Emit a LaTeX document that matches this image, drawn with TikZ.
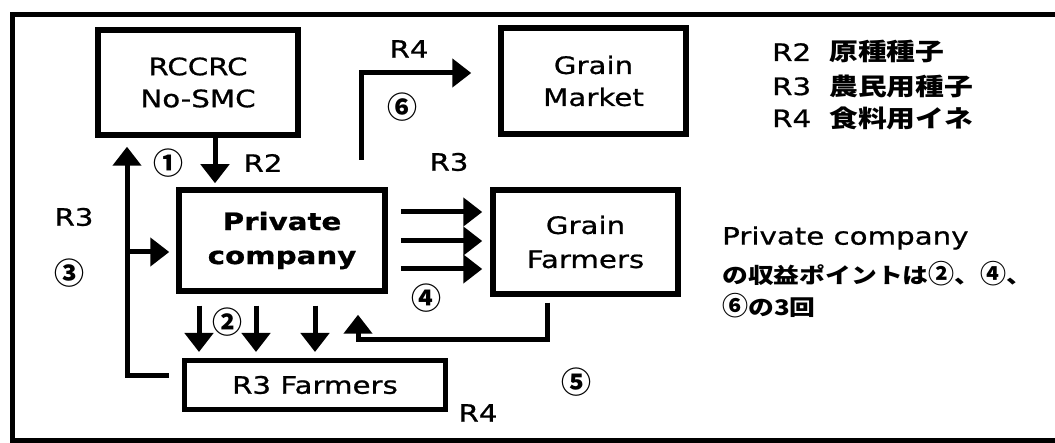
\documentclass[tikz,border=0pt]{standalone}
\usepackage{fontspec}
\setmainfont[FakeStretch=1.22,FakeBold=0.8]{DejaVu Sans}
\newfontfamily\cjk[FakeStretch=1.2]{Noto Sans CJK JP}
\newfontfamily\cnum{Noto Sans CJK JP}
\newcommand{\bigc}[1]{{\cnum\bfseries\fontsize{26}{26}\selectfont #1}}
\usetikzlibrary{arrows.meta,calc}
\begin{document}
\begin{tikzpicture}[x=1pt,y=-1pt,
  box/.style={draw,line width=5.5pt,align=center,inner sep=0pt,font=\fontsize{24}{32}\selectfont},
  lab/.style={inner sep=0pt,font=\fontsize{24}{28}\selectfont},
  cn/.style={inner sep=0pt,font=\cnum\bfseries\fontsize{30}{30}\selectfont},
  arr/.style={line width=5pt,-{Triangle[length=19pt,width=28pt]}}]
\fill[white] (0,0) rectangle (1055,443);
\useasboundingbox (0,0) rectangle (1055,443);
% frame
\draw[line width=5pt] (1055,15) -| (12,440) -- (1055,440);
% boxes
\node[box,minimum width=200pt,minimum height=105pt] (rcc) at (198,82.5) {RCCRC\\No-SMC};
\node[box,minimum width=185pt,minimum height=106pt] (gm) at (593.5,81) {Grain\\Market};
\node[box,minimum width=206pt,minimum height=101pt,font=\bfseries\fontsize{24}{34}\selectfont] (pc) at (282,240.5) {Private\\company};
\node[box,minimum width=185pt,minimum height=104pt,font=\fontsize{24}{34}\selectfont] (gf) at (585.5,242) {Grain\\Farmers};
\node[box,line width=5pt,minimum width=261pt,minimum height=49pt] (r3f) at (315,385) {R3 Farmers};
% arrow 1
\coordinate (x1) at (215,0);
\draw[arr] (x1 |- rcc.south) -- ($(x1 |- pc.north)+(0,-4)$);
% left loop (3)
\coordinate (xl) at (127,0);
\draw[arr] ($(r3f.west)+(-13,-9)$) -| ($(xl |- rcc.south)+(0,9)$);
\draw[arr] ($(xl |- pc.west)+(0,11.5)$) -- ($(pc.west)+(-7,11.5)$);
% top R4 (6)
\coordinate (s6) at (361,160);
\draw[arr] (s6) |- ($(gm.west)+(-27,-8)$);
% three arrows (4)
\foreach \yy in {212,241,269} {
  \coordinate (h) at (0,\yy);
  \draw[arr] ($(pc.east |- h)+(13,0)$) -- ($(gf.west |- h)+(-8,0)$);
}
% down arrows (2)
\foreach \xx in {199,256,315} {
  \coordinate (v) at (\xx,0);
  \draw[arr] ($(v |- pc.south)+(0,12)$) -- ($(v |- r3f.north)+(0,-6)$);
}
% feedback (5)
\coordinate (x5) at (547,0);
\coordinate (c5) at (358,340);
\draw[arr] ($(x5 |- gf.south)+(0,6)$) |- (c5) -- ($(c5 |- pc.south)+(0,21)$);
% labels
\node[cn] (n1) at (168,163) {①};
\node[lab] (l2) at (263,163) {R2};
\node[lab] (l3a) at (74,217) {R3};
\node[cn] (n3) at (69,273) {③};
\node[lab] (l4a) at (409,49) {R4};
\node[cn] (n6) at (402,107) {⑥};
\node[lab] (l3b) at (449,162) {R3};
\node[cn] (n4) at (426,298) {④};
\node[cn] (n2) at (227,322) {②};
\node[cn] (n5) at (576,382) {⑤};
\node[lab] (l4b) at (478,413) {R4};
% legend
\node[lab,anchor=west] (g2) at (772,52) {\makebox[57pt][l]{R2}{\cjk\bfseries 原種種子}};
\node[lab,anchor=west] (g3) at (772,86) {\makebox[57pt][l]{R3}{\cjk\bfseries 農民用種子}};
\node[lab,anchor=west] (g4) at (772,118) {\makebox[57pt][l]{R4}{\cjk\bfseries 食料用イネ}};
% note
\node[lab,anchor=west] (t1) at (722,238) {Private company};
\node[inner sep=0pt,anchor=west,font=\cjk\bfseries\fontsize{21.5}{24}\selectfont] (t2) at (722,274) {の収益ポイントは\bigc{②}、\bigc{④}、};
\node[inner sep=0pt,anchor=west,font=\cjk\bfseries\fontsize{21.5}{24}\selectfont] (t3) at (722,306) {\bigc{⑥}の3回};
\end{tikzpicture}
\end{document}
